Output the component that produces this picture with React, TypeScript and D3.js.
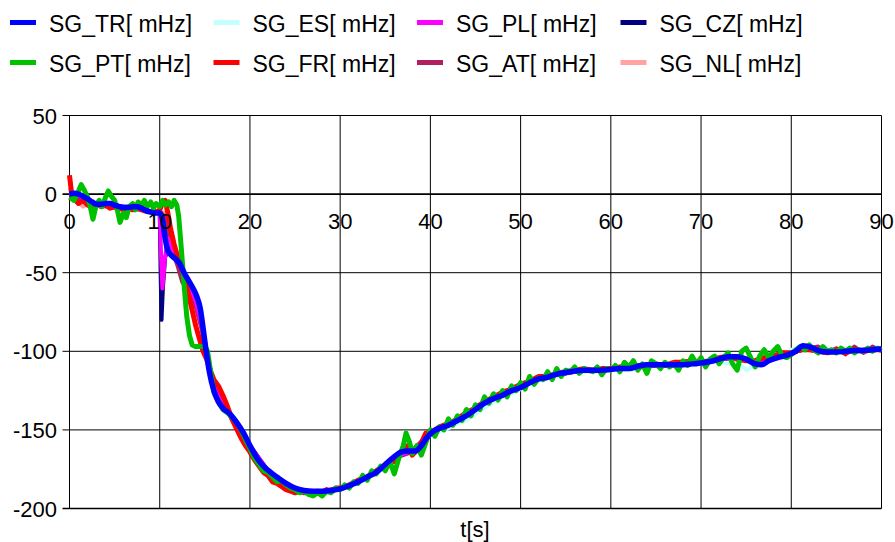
import React from 'react';
import * as d3 from 'd3';

type Pt = [number, number];

// t[s], value [mHz]
const SG_TR: Pt[] = [
  [0, 0], [0.5, 0.5], [1, 0], [1.5, -1.5], [2, -3], [2.5, -5], [3, -6.5], [3.5, -6.5], [4, -6], [4.5, -6],
  [5, -7], [5.5, -8], [6, -8.5], [6.5, -8.5], [7, -8], [7.5, -8], [8, -9], [8.5, -10.5], [9, -11.5], [9.5, -12],
  [10, -12], [10.3, -16], [10.6, -28], [10.9, -36], [11.3, -39], [11.7, -41], [12.2, -44], [12.7, -50], [13.2, -55],
  [13.7, -60], [14.1, -65], [14.5, -73], [14.8, -85], [15.1, -98], [15.5, -113], [16, -125], [16.5, -132], [17, -136],
  [17.8, -140], [18.5, -145], [19.3, -152], [20, -160], [20.8, -168], [21.5, -173], [22.3, -177], [23, -180],
  [24, -184], [25, -187], [26, -188.5], [27, -189], [28, -189], [29, -188.5], [30, -187.5], [31, -185.5], [32, -183],
  [33, -180], [34, -177], [35, -172], [36, -167], [36.8, -164], [37.5, -163.5], [38.3, -163.5], [39, -160],
  [39.6, -155], [40.3, -151], [41, -149], [42, -147], [43, -144], [44, -141], [45, -137], [46, -133], [47, -130],
  [48, -128], [49, -125], [50, -123], [51, -120], [52, -117.5], [53, -116.5], [54, -114.5], [55, -113.5],
  [56, -112.5], [57, -112], [58, -112], [59, -112], [60, -111.5], [61, -111], [62, -111], [63, -109.5], [64, -108.5],
  [65, -108.5], [66, -108.5], [67, -108.5], [68, -108.5], [69, -108], [70, -107.5], [71, -106.5], [72, -105],
  [73, -103.5], [74, -103.5], [75, -105], [76, -108], [76.7, -108.5], [77.5, -106], [78.5, -104], [79.5, -102.5],
  [80.5, -100], [81.3, -96.5], [82.2, -97.5], [83, -99.5], [84, -100.5], [85, -100.5], [86, -100], [87, -99.5],
  [88, -99.5], [89, -99], [90, -98.5],
];

const SG_ES: Pt[] = [
  [0, 1], [1, -1], [2, -3], [3, -6], [4, -5], [5, -8], [6, -8], [7, -9], [8, -9], [9, -12], [10, -11], [10.5, -20],
  [11, -33], [12, -42], [13, -53], [14, -64], [14.6, -78], [15.2, -100], [16, -123], [17, -135], [18, -142],
  [19, -151], [20, -160], [21, -170], [22, -176], [23, -181], [24, -185], [25, -188], [26, -189], [27, -190],
  [28, -189], [29, -189], [30, -187], [31, -186], [32, -183], [33, -181], [34, -177], [35, -173], [36, -168],
  [37, -166], [38, -165], [39, -160], [40, -153], [41, -151], [42, -149], [43, -146], [44, -144], [45, -140],
  [46, -136], [47, -132], [48, -129], [49, -127], [50, -124], [51, -121], [52, -118], [54, -116], [56, -113],
  [58, -113], [60, -112], [62, -112], [64, -110], [66, -109], [68, -109], [70, -108], [72, -106], [73, -108],
  [74, -106], [75, -112], [76, -109], [77, -103], [78, -101], [79, -103], [80, -99], [82, -98], [84, -100],
  [86, -101], [88, -99], [90, -99],
];

const SG_PL: Pt[] = [
  [0, -1], [1, -1], [2, -4], [3, -6], [4, -7], [5, -8], [6, -9], [7, -8], [8, -10], [9, -11], [9.5, -12], [10, -12],
  [10.15, -40], [10.3, -60], [10.6, -40], [10.9, -28], [11.3, -34], [12, -42], [13, -55], [14, -68], [14.6, -82],
  [15.2, -100], [16, -122], [17, -133], [18, -142], [19, -151], [20, -160], [22, -176], [24, -185], [26, -189],
  [28, -189], [30, -187], [32, -183], [34, -177], [36, -168], [38, -163], [40, -152], [42, -147], [44, -141],
  [46, -133], [48, -128], [50, -123], [52, -117], [54, -115], [56, -113], [58, -112], [60, -111], [62, -111],
  [64, -109], [66, -109], [68, -108], [70, -107], [72, -105], [74, -104], [76, -107], [78, -105], [80, -101],
  [82, -98], [84, -100], [86, -100], [88, -99], [90, -99],
];

const SG_CZ: Pt[] = [
  [0, 0], [1, -1], [2, -4], [3, -6], [4, -6], [5, -7], [6, -8], [7, -8], [8, -9], [9, -11], [9.5, -11], [10, -12],
  [10.1, -50], [10.2, -80], [10.35, -60], [10.6, -40], [11, -35], [12, -43], [13, -54], [14, -66], [14.6, -80],
  [15.2, -100], [16, -123], [17, -134], [18, -142], [19, -151], [20, -160], [22, -176], [24, -185], [26, -189],
  [28, -189], [30, -187], [32, -183], [34, -177], [36, -168], [38, -163], [40, -152], [42, -147], [44, -141],
  [46, -133], [48, -128], [50, -123], [52, -117], [54, -115], [56, -113], [58, -112], [60, -111], [62, -111],
  [64, -109], [66, -109], [68, -108], [70, -107], [72, -105], [74, -104], [76, -107], [78, -105], [80, -101],
  [82, -98], [84, -100], [86, -100], [88, -99], [90, -99],
];

const SG_PT: Pt[] = [
  [0, -2], [0.5, -4], [1, 2], [1.3, 6], [1.6, 3], [2, -2], [2.3, -8], [2.6, -16], [3, -6], [3.3, -4], [3.6, -8],
  [4, -2], [4.3, 2], [4.6, -1], [5, -4], [5.3, -10], [5.6, -18], [6, -12], [6.3, -15], [6.6, -8], [7, -6],
  [7.3, -10], [7.6, -5], [8, -7], [8.3, -4], [8.6, -8], [9, -5], [9.3, -9], [9.6, -6], [10, -8], [10.3, -4],
  [10.6, -7], [11, -5], [11.3, -8], [11.6, -4], [11.9, -7], [12.1, -14], [12.4, -35], [12.7, -58], [13, -78],
  [13.3, -90], [13.6, -96], [14, -97], [14.5, -97], [15, -97], [15.3, -100], [15.7, -115], [16, -126],
  [16.5, -132], [17, -137], [17.5, -139], [18, -142], [18.5, -145], [19, -150], [19.5, -156], [20, -162],
  [20.5, -168], [21, -172], [21.5, -176], [22, -177], [22.5, -180], [23, -183], [23.5, -182], [24, -185],
  [24.5, -187], [25, -188], [25.5, -190], [26, -189], [26.5, -191], [27, -192], [27.5, -190], [28, -192],
  [28.5, -189], [29, -190], [29.5, -187], [30, -188], [30.5, -185], [31, -187], [31.5, -183], [32, -184],
  [32.5, -179], [33, -182], [33.5, -176], [34, -178], [34.5, -173], [35, -176], [35.5, -170], [36, -178],
  [36.5, -168], [37, -160], [37.3, -152], [37.7, -158], [38, -165], [38.5, -160], [39, -166], [39.5, -158],
  [40, -150], [40.5, -154], [41, -148], [41.5, -150], [42, -143], [42.5, -147], [43, -141], [43.5, -144],
  [44, -137], [44.5, -141], [45, -134], [45.5, -137], [46, -129], [46.5, -133], [47, -127], [47.5, -131],
  [48, -125], [48.5, -129], [49, -122], [49.5, -125], [50, -120], [50.5, -124], [51, -116], [51.5, -121],
  [52, -117], [52.5, -118], [53, -113], [53.5, -118], [54, -111], [54.5, -116], [55, -112], [55.5, -113],
  [56, -110], [56.5, -114], [57, -111], [57.5, -112], [58, -113], [58.5, -110], [59, -115], [59.5, -111],
  [60, -112], [60.5, -109], [61, -113], [61.5, -107], [62, -110], [62.5, -106], [63, -112], [63.5, -108],
  [64, -114], [64.5, -106], [65, -108], [65.5, -111], [66, -107], [66.5, -110], [67, -108], [67.5, -112],
  [68, -106], [68.5, -109], [69, -103], [69.5, -108], [70, -104], [70.5, -110], [71, -105], [71.5, -103],
  [72, -108], [72.5, -104], [73, -101], [73.5, -108], [74, -112], [74.5, -100], [75, -98], [75.5, -104],
  [76, -110], [76.5, -103], [77, -99], [77.5, -104], [78, -100], [78.5, -97], [79, -103], [79.5, -104],
  [80, -102], [80.5, -99], [81, -97], [81.5, -99], [82, -96], [82.5, -99], [83, -101], [83.5, -97], [84, -100],
  [84.5, -99], [85, -101], [85.5, -98], [86, -100], [86.5, -98], [87, -101], [87.5, -99], [88, -100],
  [88.5, -98], [89, -100], [89.5, -98], [90, -99],
];

const SG_FR: Pt[] = [
  [0, 12], [0.2, 2], [0.5, -3], [1, -6], [1.5, -4], [2, -7], [2.5, -8], [3, -6], [3.5, -8], [4, -7], [4.5, -9],
  [5, -8], [5.5, -9], [6, -10], [6.5, -9], [7, -10], [7.5, -9], [8, -10], [8.5, -11], [9, -11], [9.5, -12],
  [10, -10], [10.3, -6], [10.6, -4], [10.9, -12], [11.2, -22], [11.6, -32], [12, -40], [12.4, -45], [12.8, -55],
  [13.2, -64], [13.6, -74], [14, -84], [14.4, -92], [14.8, -100], [15.2, -105], [15.6, -112], [16, -118],
  [16.5, -122], [17, -128], [17.5, -135], [18, -143], [18.5, -149], [19, -155], [19.5, -160], [20, -164],
  [20.5, -169], [21, -173], [21.5, -177], [22, -179], [22.5, -183], [23, -184], [23.5, -186], [24, -188],
  [24.5, -189], [25, -190], [25.5, -189], [26, -190], [26.5, -189], [27, -191], [27.5, -189], [28, -190],
  [28.5, -188], [29, -189], [29.5, -187], [30, -187], [31, -185], [32, -182], [33, -180], [34, -176],
  [35, -172], [36, -170], [36.5, -166], [37, -162], [37.5, -160], [38, -166], [38.5, -163], [39, -158],
  [39.5, -152], [40, -152], [41, -148], [42, -146], [43, -143], [44, -139], [45, -136], [46, -132], [47, -129],
  [48, -126], [49, -124], [50, -121], [51, -119], [52, -116], [53, -116], [54, -114], [55, -113], [56, -112],
  [57, -111], [58, -112], [59, -111], [60, -111], [61, -110], [62, -110], [63, -109], [64, -109], [65, -108],
  [66, -109], [67, -107], [68, -107], [69, -106], [70, -107], [71, -106], [72, -104], [73, -103], [74, -105],
  [75, -106], [76, -106], [77, -104], [78, -103], [79, -101], [80, -101], [81, -99], [82, -99], [83, -100],
  [84, -101], [85, -99], [86, -101], [87, -99], [88, -100], [89, -99], [90, -99],
];

const SG_AT: Pt[] = [
  [0, -1], [1, -3], [2, -5], [3, -7], [4, -7], [5, -8], [6, -9], [7, -9], [8, -10], [9, -11], [10, -11],
  [10.5, -14], [11, -28], [11.5, -38], [12, -46], [12.5, -56], [13, -60], [14, -72], [14.6, -85], [15.2, -102],
  [16, -122], [17, -134], [18, -143], [19, -152], [20, -161], [22, -177], [24, -186], [26, -189], [28, -190],
  [30, -187], [32, -183], [34, -177], [36, -168], [38, -164], [40, -152], [42, -147], [44, -141], [46, -133],
  [48, -128], [50, -122], [52, -117], [54, -115], [56, -113], [58, -112], [60, -111], [62, -111], [64, -109],
  [66, -109], [68, -108], [70, -107], [72, -105], [74, -104], [76, -107], [78, -104], [80, -101], [82, -98],
  [83, -97], [84, -101], [85, -98], [86, -102], [87, -97], [88, -101], [89, -97], [90, -100],
];

const SG_NL: Pt[] = [
  [0, 4], [0.5, -2], [1, -5], [1.5, -8], [2, -6], [3, -7], [4, -8], [5, -9], [6, -9], [7, -10], [8, -10],
  [9, -11], [10, -11], [10.5, -12], [11, -25], [12, -40], [13, -53], [14, -65], [14.6, -80], [15.2, -100],
  [16, -123], [17, -134], [18, -143], [19, -152], [20, -161], [22, -177], [24, -186], [26, -189], [28, -189],
  [30, -187], [32, -183], [34, -177], [36, -168], [38, -164], [40, -152], [42, -147], [44, -141], [46, -133],
  [48, -128], [50, -122], [52, -117], [54, -115], [56, -113], [58, -112], [60, -111], [62, -111], [64, -109],
  [66, -109], [68, -108], [70, -107], [72, -105], [74, -104], [76, -107], [78, -104], [80, -101], [82, -98],
  [84, -100], [86, -99], [88, -100], [90, -98],
];

const legendRows = [
  [
    { name: 'SG_TR[ mHz]', color: '#0000ff' },
    { name: 'SG_ES[ mHz]', color: '#c4ffff' },
    { name: 'SG_PL[ mHz]', color: '#ff00ff' },
    { name: 'SG_CZ[ mHz]', color: '#000080' },
  ],
  [
    { name: 'SG_PT[ mHz]', color: '#00c000' },
    { name: 'SG_FR[ mHz]', color: '#ff0000' },
    { name: 'SG_AT[ mHz]', color: '#b0205e' },
    { name: 'SG_NL[ mHz]', color: '#ffa4a0' },
  ],
];

const xTicks = [0, 10, 20, 30, 40, 50, 60, 70, 80, 90];
const yTicks = [50, 0, -50, -100, -150, -200];

// bottom to top
const series = [
  { data: SG_NL, color: '#ffa4a0', width: 4, smooth: false },
  { data: SG_ES, color: '#c4ffff', width: 4, smooth: false },
  { data: SG_AT, color: '#b0205e', width: 4, smooth: false },
  { data: SG_CZ, color: '#000080', width: 4, smooth: false },
  { data: SG_PL, color: '#ff00ff', width: 4, smooth: false },
  { data: SG_FR, color: '#ff0000', width: 5, smooth: false },
  { data: SG_PT, color: '#00c000', width: 5, smooth: false },
  { data: SG_TR, color: '#0000ff', width: 5.5, smooth: true },
];

const W = 895;
const H = 542;
const font = 'Arial, "Liberation Sans", sans-serif';

export default function App() {
  const x = d3.scaleLinear().domain([0, 90]).range([69.5, 881.5]);
  const y = d3.scaleLinear().domain([-200, 50]).range([508.5, 115.5]);

  const mkLine = (smooth: boolean) =>
    d3
      .line<Pt>()
      .x((d) => x(d[0]))
      .y((d) => y(d[1]))
      .curve(smooth ? d3.curveMonotoneX : d3.curveLinear);

  return (
    <svg width={W} height={H} style={{ position: 'absolute', left: 0, top: 0, background: '#fff' }}>
      <rect x={0} y={0} width={W} height={H} fill="#fff" />
      {/* legend */}
      {legendRows.map((row, ri) =>
        row.map((item, ci) => {
          const lx = 10 + ci * 203.5;
          const ly = 22.5 + ri * 40;
          return (
            <g key={item.name}>
              <line x1={lx} x2={lx + 26} y1={ly} y2={ly} stroke={item.color} strokeWidth={5} />
              <text x={lx + 39} y={ly + 9} fontFamily={font} fontSize={23} fill="#000">
                {item.name}
              </text>
            </g>
          );
        })
      )}

      {/* grid */}
      {xTicks.map((t) => (
        <line key={'gx' + t} x1={x(t)} x2={x(t)} y1={y(50)} y2={y(-200)} stroke="#000" strokeWidth={1} />
      ))}
      {yTicks.map((t) => (
        <line
          key={'gy' + t}
          x1={x(0) - 7}
          x2={x(90)}
          y1={y(t)}
          y2={y(t)}
          stroke="#000"
          strokeWidth={t === 0 || t === -200 ? 1.6 : 1}
        />
      ))}

      {/* series */}
      {series.map((s, i) => (
        <path
          key={i}
          d={mkLine(s.smooth)(s.data) || ''}
          fill="none"
          stroke={s.color}
          strokeWidth={s.width}
          strokeLinejoin="round"
        />
      ))}

      {/* tick labels */}
      {yTicks.map((t) => (
        <text
          key={'ly' + t}
          x={57}
          y={y(t) + 8}
          textAnchor="end"
          fontFamily={font}
          fontSize={22}
          fill="#000"
        >
          {t}
        </text>
      ))}
      {xTicks.map((t) => (
        <text
          key={'lx' + t}
          x={x(t)}
          y={y(0) + 35}
          textAnchor="middle"
          fontFamily={font}
          fontSize={22}
          fill="#000"
        >
          {t}
        </text>
      ))}
      <text x={475} y={537} textAnchor="middle" fontFamily={font} fontSize={22} fill="#000">
        t[s]
      </text>
    </svg>
  );
}
